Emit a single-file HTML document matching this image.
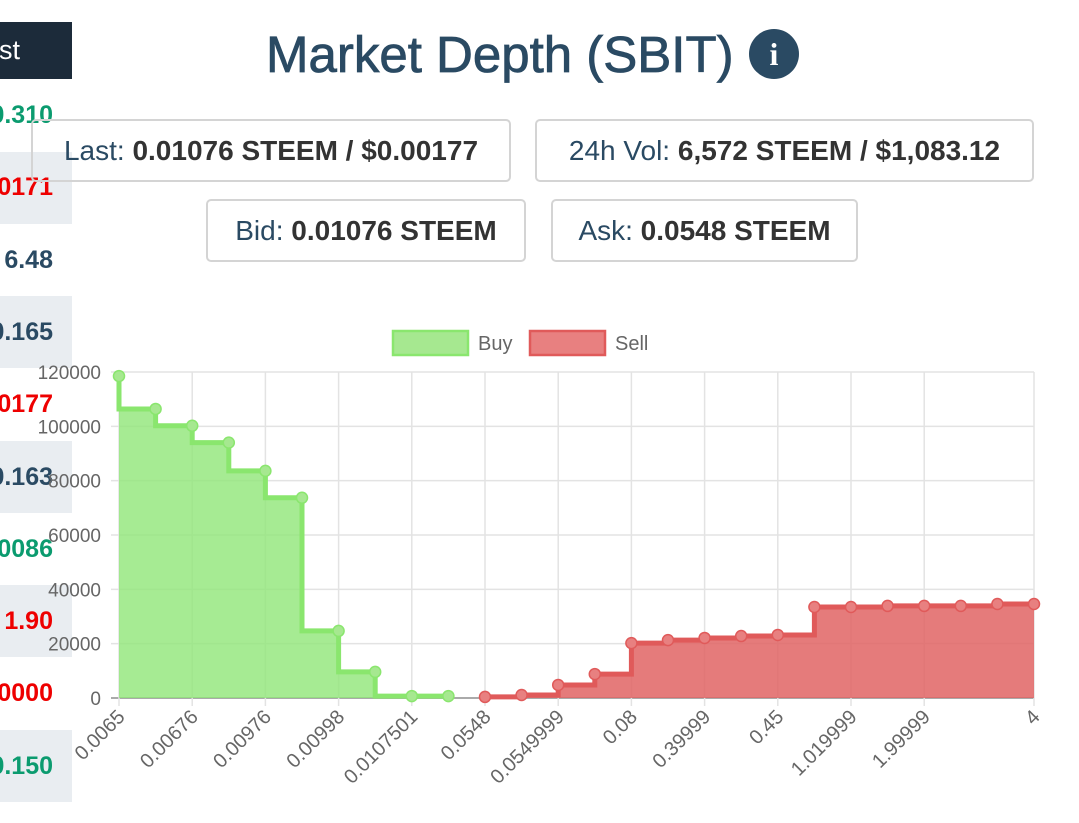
<!DOCTYPE html>
<html><head><meta charset="utf-8"><style>
body{margin:0;width:1079px;height:823px;background:#fff;position:relative;overflow:hidden;font-family:"Liberation Sans",sans-serif}
.abs{position:absolute}
.row{position:absolute;left:0;width:72px;height:72px}
.gray{background:#e9edf1}
.lv{position:absolute;right:27px;font-size:25px;font-weight:bold;white-space:nowrap;line-height:30px}
.box{position:absolute;border:2px solid #d4d4d4;border-radius:5px;height:63px;box-sizing:border-box;font-size:28px;line-height:59px;text-align:center;white-space:nowrap;color:#2a4a63}
.box b{color:#333}
</style></head><body>
<div class="abs" style="left:0;top:0;width:80px;height:823px;overflow:hidden">
<div class="abs" style="left:0;top:22px;width:72px;height:57px;background:#1c2b3a;color:#fff;font-size:27px;line-height:57px"><span style="position:absolute;right:52px">st</span></div>
<div class="row gray" style="top:152px"></div>
<div class="row gray" style="top:296px"></div>
<div class="row gray" style="top:441px"></div>
<div class="row gray" style="top:585px"></div>
<div class="row gray" style="top:730px"></div>
<div class="lv" style="top:100px;color:#0b9b6f">0.310</div>
<div class="lv" style="top:172px;color:#e00">00171</div>
<div class="lv" style="top:245px;color:#2a4a63">6.48</div>
<div class="lv" style="top:317px;color:#2a4a63">0.165</div>
<div class="lv" style="top:389px;color:#e00">00177</div>
<div class="lv" style="top:462px;color:#2a4a63">0.163</div>
<div class="lv" style="top:534px;color:#0b9b6f">00086</div>
<div class="lv" style="top:606px;color:#e00">1.90</div>
<div class="lv" style="top:678px;color:#e00">00000</div>
<div class="lv" style="top:751px;color:#0b9b6f">0.150</div>
</div>
<div class="abs" style="left:266px;top:20px;font-size:51px;color:#2a4a63;line-height:70px;white-space:nowrap;-webkit-text-stroke:0.8px #2a4a63">Market Depth (SBIT)</div>
<div class="abs" style="left:749px;top:29px;width:50px;height:50px;border-radius:50%;background:#2a4a63;color:#fff;text-align:center;font:bold 32px/50px 'Liberation Serif',serif">i</div>
<div class="box" style="left:31px;top:119px;width:480px">Last: <b>0.01076 STEEM / $0.00177</b></div>
<div class="box" style="left:535px;top:119px;width:499px">24h Vol: <b>6,572 STEEM / $1,083.12</b></div>
<div class="box" style="left:206px;top:199px;width:320px">Bid: <b>0.01076 STEEM</b></div>
<div class="box" style="left:551px;top:199px;width:307px">Ask: <b>0.0548 STEEM</b></div>
<svg id="chart" class="abs" style="left:0;top:0" width="1079" height="823"></svg>
<script>
const labels=["0.0065","","0.00676","","0.00976","","0.00998","","0.0107501","","0.0548","","0.0549999","","0.08","","0.39999","","0.45","","1.019999","","1.99999","","","4"];
const buyValues=[118500,106400,100200,94000,83600,73700,24700,9600,700,700];
const sellValues=[400,1100,4800,8800,20200,21300,22100,22800,23200,33500,33500,33900,33900,33900,34600,34600];
const yTicks=[0,20000,40000,60000,80000,100000,120000];
const tickIdx=[0,2,4,6,8,10,12,14,16,18,20,22,25];
const NS="http://www.w3.org/2000/svg";
const svg=document.getElementById('chart');
const X0=119,X1=1034,Y0=698,Y1=372,N=labels.length;
const xs=i=>X0+(X1-X0)*i/(N-1);
const ys=v=>Y0-(Y0-Y1)*v/120000;
function mk(t,a){const e=document.createElementNS(NS,t);for(const k in a)e.setAttribute(k,a[k]);svg.appendChild(e);return e;}
yTicks.forEach(v=>{
 const l=mk('line',{x1:X0-8,x2:X1,y1:ys(v),y2:ys(v),stroke:v===0?'#aaa':'#e3e3e3','stroke-width':v===0?2:1.5});
 
 const t=mk('text',{x:X0-18,y:ys(v)+7,'text-anchor':'end','font-size':19,fill:'#666','font-family':'Liberation Sans, sans-serif'});
 t.textContent=v;
});
tickIdx.forEach(i=>{
 const l=mk('line',{x1:xs(i),x2:xs(i),y1:Y1,y2:Y0+8,stroke:'#e3e3e3','stroke-width':1.5});
 
 const t=mk('text',{x:0,y:0,'text-anchor':'end','font-size':20,fill:'#666','font-family':'Liberation Sans, sans-serif',transform:`translate(${xs(i)+7},${Y0+20}) rotate(-45)`});
 t.textContent=labels[i];
});
let bp=`M${xs(0)},${ys(buyValues[0])}`;
for(let i=1;i<buyValues.length;i++)bp+=` L${xs(i-1)},${ys(buyValues[i])} L${xs(i)},${ys(buyValues[i])}`;
const bLast=buyValues.length-1;
const bf=mk('path',{d:bp+` L${xs(bLast)},${Y0} L${xs(0)},${Y0} Z`,fill:'rgba(144,230,120,0.8)',stroke:'none'});

const bl=mk('path',{d:bp,fill:'none',stroke:'#8ae66e','stroke-width':5});

const s0=buyValues.length;
let sp=`M${xs(s0)},${ys(sellValues[0])}`;
for(let i=1;i<sellValues.length;i++)sp+=` L${xs(s0+i)},${ys(sellValues[i-1])} L${xs(s0+i)},${ys(sellValues[i])}`;
const sf=mk('path',{d:sp+` L${xs(s0+sellValues.length-1)},${Y0} L${xs(s0)},${Y0} Z`,fill:'rgba(225,100,100,0.85)',stroke:'none'});

const sl=mk('path',{d:sp,fill:'none',stroke:'#e05a5a','stroke-width':5});

buyValues.forEach((v,i)=>{const c=mk('circle',{cx:xs(i),cy:ys(v),r:5.5,fill:'#a6e890',stroke:'#8ae66e','stroke-width':1.5});
 });
sellValues.forEach((v,i)=>{const c=mk('circle',{cx:xs(s0+i),cy:ys(v),r:5.5,fill:'#e88080',stroke:'#e05a5a','stroke-width':1.5});
 });
const lb=mk('rect',{x:393,y:331,width:75,height:24,fill:'#a6e890',stroke:'#8ae66e','stroke-width':2.5});

const lt=mk('text',{x:478,y:350,'font-size':20,fill:'#666','font-family':'Liberation Sans, sans-serif'});lt.textContent='Buy';

const ls=mk('rect',{x:530,y:331,width:75,height:24,fill:'#e88080',stroke:'#e05a5a','stroke-width':2.5});

const lst=mk('text',{x:615,y:350,'font-size':20,fill:'#666','font-family':'Liberation Sans, sans-serif'});lst.textContent='Sell';

</script>
</body></html>
